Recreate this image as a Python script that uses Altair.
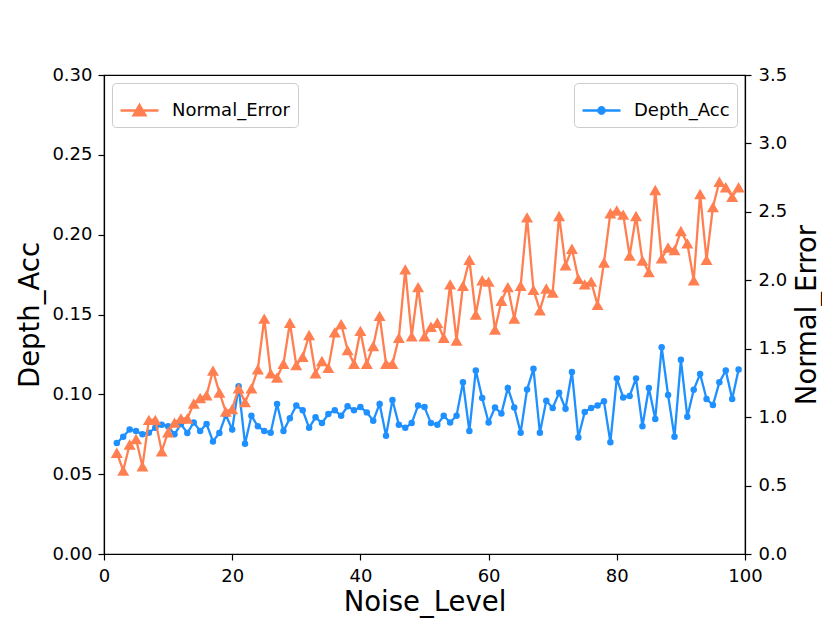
import altair as alt
import pandas as pd

noise_level = [2, 3, 4, 5, 6, 7, 8, 9, 10, 11, 12, 13, 14, 15, 16, 17, 18, 19, 20,
               21, 22, 23, 24, 25, 26, 27, 28, 29, 30, 31, 32, 33, 34, 35, 36, 37, 38,
               39, 40, 41, 42, 43, 44, 45, 46, 47, 48, 49, 50, 51, 52, 53, 54, 55, 56,
               57, 58, 59, 60, 61, 62, 63, 64, 65, 66, 67, 68, 69, 70, 71, 72, 73, 74,
               75, 76, 77, 78, 79, 80, 81, 82, 83, 84, 85, 86, 87, 88, 89, 90, 91, 92,
               93, 94, 95, 96, 97, 98, 99]

depth_acc = [0.0695, 0.0734, 0.078, 0.077, 0.075, 0.076, 0.079, 0.081, 0.080, 0.075,
             0.0814, 0.0758, 0.0824, 0.077, 0.0814, 0.0705, 0.0758, 0.087, 0.078, 0.105,
             0.069, 0.0866, 0.080, 0.077, 0.076, 0.094, 0.077, 0.085, 0.093, 0.090,
             0.079, 0.0856, 0.082, 0.0877, 0.090, 0.0866, 0.0925, 0.090, 0.092, 0.0887,
             0.0835, 0.094, 0.074, 0.0965, 0.081, 0.079, 0.082, 0.093, 0.092, 0.082,
             0.081, 0.0866, 0.0824, 0.0866, 0.1075, 0.077, 0.115, 0.0977, 0.0824, 0.0918,
             0.088, 0.104, 0.0918, 0.076, 0.103, 0.116, 0.076, 0.096, 0.0915, 0.101,
             0.091, 0.114, 0.073, 0.089, 0.0915, 0.093, 0.0956, 0.070, 0.110, 0.098,
             0.099, 0.110, 0.080, 0.104, 0.0846, 0.1295, 0.0996, 0.0734, 0.1216, 0.086,
             0.1028, 0.1128, 0.0971, 0.0933, 0.1075, 0.1149, 0.0971, 0.1155]

normal_error = [0.74, 0.61, 0.80, 0.84, 0.64, 0.98, 0.98, 0.75, 0.89, 0.96,
                0.99, 0.99, 1.10, 1.14, 1.16, 1.34, 1.18, 1.04, 1.06, 1.21,
                1.11, 1.21, 1.35, 1.72, 1.32, 1.29, 1.39, 1.69, 1.38, 1.44,
                1.60, 1.32, 1.41, 1.36, 1.62, 1.68, 1.49, 1.39, 1.63, 1.39,
                1.52, 1.74, 1.39, 1.39, 1.58, 2.08, 1.59, 1.95, 1.59, 1.66,
                1.69, 1.58, 1.97, 1.56, 1.96, 2.15, 1.75, 2.00, 1.99, 1.64,
                1.85, 1.95, 1.72, 1.96, 2.46, 1.93, 1.78, 1.94, 1.91, 2.47,
                2.11, 2.23, 2.01, 1.97, 1.99, 1.82, 2.13, 2.49, 2.51, 2.48,
                2.18, 2.47, 2.145, 2.06, 2.66, 2.16, 2.24, 2.22, 2.36, 2.27,
                2.00, 2.63, 2.15, 2.535, 2.72, 2.68, 2.61, 2.68]

x_ticks = [0, 20, 40, 60, 80, 100]
left_ticks = [0.00, 0.05, 0.10, 0.15, 0.20, 0.25, 0.30]
right_ticks = [0.0, 0.5, 1.0, 1.5, 2.0, 2.5, 3.0, 3.5]

BLUE = "#1E90FF"
ORANGE = "#FF7F50"
FONT = "DejaVu Sans"

df = pd.DataFrame({
    "Noise_Level": noise_level,
    "Depth_Acc": depth_acc,
    "Normal_Error": normal_error,
})
df["s1"] = "Depth_Acc"
df["s2"] = "Normal_Error"

axis_common = dict(grid=False, labelFontSize=18, titleFontSize=27.5, labelFont=FONT,
                   titleFont=FONT, titleFontWeight="normal",
                   labelColor="black", titleColor="black",
                   domainColor="black", tickColor="black",
                   tickSize=6, tickWidth=1.2, domainWidth=1.2, labelFlush=False)

xenc = alt.X("Noise_Level:Q",
             scale=alt.Scale(domain=[0, 100], nice=False, zero=False),
             axis=alt.Axis(values=x_ticks, title="Noise_Level",
                           labelPadding=7, titlePadding=3, **axis_common))

legend_common = dict(title=None, labelFontSize=18, labelFont=FONT,
                     labelColor="black", padding=7, cornerRadius=4,
                     strokeColor="#cccccc", fillColor="white", offset=8,
                     symbolStrokeWidth=2.3, symbolSize=1444, labelOffset=12)

tri_path = "M-1,0H1M0,-0.3L0.316,0.25L-0.316,0.25Z"
circ_path = "M-1,0H1M0.17,0A0.17,0.17,0,1,1,-0.17,0A0.17,0.17,0,1,1,0.17,0Z"

blue = alt.Chart(df).mark_line(
    strokeWidth=2.3,
    point=alt.OverlayMarkDef(shape="circle", size=42, filled=True, color=BLUE, opacity=1),
).encode(
    x=xenc,
    y=alt.Y("Depth_Acc:Q",
            scale=alt.Scale(domain=[0, 0.30], nice=False),
            axis=alt.Axis(orient="left", values=left_ticks, format=".2f",
                          title="Depth_Acc", labelPadding=6, titlePadding=7,
                          **axis_common)),
    color=alt.Color("s1:N", scale=alt.Scale(domain=["Depth_Acc"], range=[BLUE]),
                    legend=alt.Legend(orient="top-right", symbolType=circ_path,
                                      symbolFillColor=BLUE, symbolStrokeColor=BLUE,
                                      **legend_common)),
)

orange = alt.Chart(df).mark_line(
    strokeWidth=2.3,
    point=alt.OverlayMarkDef(shape="triangle-up", size=144, filled=True, color=ORANGE, opacity=1),
).encode(
    x=xenc,
    y=alt.Y("Normal_Error:Q",
            scale=alt.Scale(domain=[0, 3.5], nice=False),
            axis=alt.Axis(orient="right", values=right_ticks, format=".1f",
                          title="Normal_Error", titleAngle=270, titleBaseline="top",
                          labelPadding=7, titlePadding=7, **axis_common)),
    color=alt.Color("s2:N", scale=alt.Scale(domain=["Normal_Error"], range=[ORANGE]),
                    legend=alt.Legend(orient="top-left", symbolType=tri_path,
                                      symbolFillColor=ORANGE, symbolStrokeColor=ORANGE,
                                      **legend_common)),
)

chart = alt.layer(blue, orange).resolve_scale(
    y="independent", color="independent"
).properties(
    width=641, height=479,
    autosize=alt.AutoSizeParams(type="none"),
    padding={"left": 96, "top": 67, "right": 77, "bottom": 66},
    background="white",
).configure_view(stroke="black", strokeWidth=1.2)

chart.save("out.html", embed_options={"renderer": "svg", "actions": False})
